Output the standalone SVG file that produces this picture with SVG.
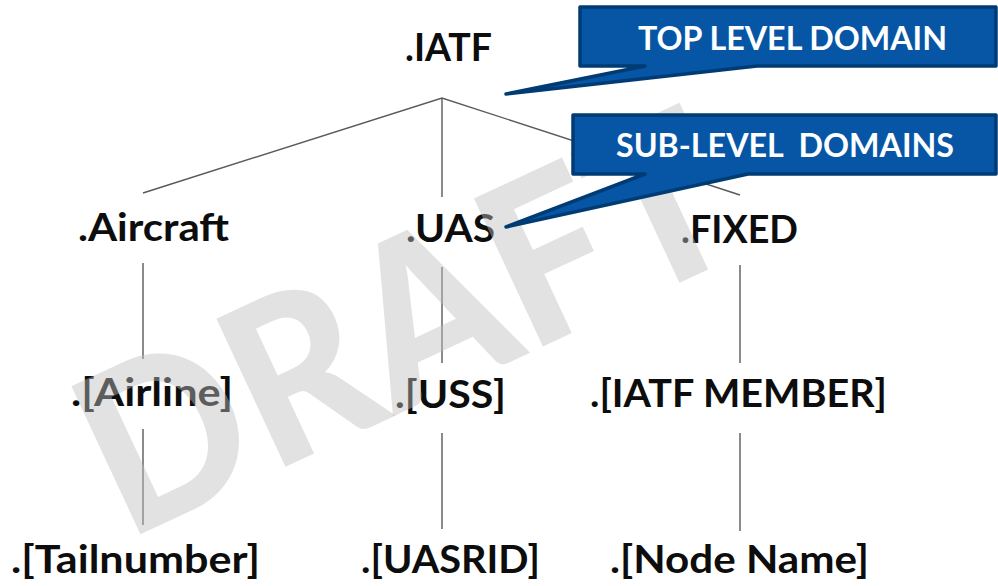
<svg xmlns="http://www.w3.org/2000/svg" width="998" height="586" viewBox="0 0 998 586">
  <style>
    .node { font-family: Lato, "Open Sans", "Liberation Sans", sans-serif; font-weight: 700; font-size: 39px; fill: #0d0d0d; text-anchor: middle; }
    .edge { stroke: #595959; stroke-width: 1.4; fill: none; stroke-linecap: butt; }
    .callout { fill: #0656a5; stroke: #003b73; stroke-width: 3.5; stroke-linejoin: round; }
    .callout-text { font-family: Lato, "Open Sans", "Liberation Sans", sans-serif; font-weight: 700; font-size: 33px; fill: #ffffff; text-anchor: middle; white-space: pre; }
    .watermark { font-family: Lato, "Open Sans", "Liberation Sans", sans-serif; font-weight: 900; font-size: 225px; fill: #bfbfbf; fill-opacity: 0.45; }
  </style>
  <rect width="998" height="586" fill="#ffffff"/>

  <!-- tree connectors -->
  <g id="connectors">
    <polyline class="edge" points="143,193 442,98 740,195"/>
    <line class="edge" x1="442" y1="98" x2="442" y2="197"/>
    <line class="edge" x1="143" y1="263" x2="143" y2="359"/>
    <line class="edge" x1="143" y1="429" x2="143" y2="525"/>
    <line class="edge" x1="442" y1="267" x2="442" y2="363"/>
    <line class="edge" x1="442" y1="433" x2="442" y2="529"/>
    <line class="edge" x1="740" y1="265" x2="740" y2="363"/>
    <line class="edge" x1="740" y1="433" x2="740" y2="531"/>
  </g>

  <!-- domain nodes -->
  <g id="node-iatf"><text class="node" x="448.5" y="61" textLength="87" lengthAdjust="spacingAndGlyphs">.IATF</text></g>
  <g id="node-aircraft"><text class="node" x="153.5" y="241" textLength="151" lengthAdjust="spacingAndGlyphs">.Aircraft</text></g>
  <g id="node-uas"><text class="node" x="450.5" y="242" textLength="89" lengthAdjust="spacingAndGlyphs">.UAS</text></g>
  <g id="node-fixed"><text class="node" x="739.5" y="243" textLength="117" lengthAdjust="spacingAndGlyphs">.FIXED</text></g>
  <g id="node-airline"><text class="node" x="152" y="406" textLength="162" lengthAdjust="spacingAndGlyphs">.[Airline]</text></g>
  <g id="node-uss"><text class="node" x="450.5" y="408" textLength="111" lengthAdjust="spacingAndGlyphs">.[USS]</text></g>
  <g id="node-member"><text class="node" x="738.5" y="407" textLength="297" lengthAdjust="spacingAndGlyphs">.[IATF MEMBER]</text></g>
  <g id="node-tailnumber"><text class="node" x="135.5" y="573" textLength="249" lengthAdjust="spacingAndGlyphs">.[Tailnumber]</text></g>
  <g id="node-uasrid"><text class="node" x="450.5" y="573" textLength="179" lengthAdjust="spacingAndGlyphs">.[UASRID]</text></g>
  <g id="node-nodename"><text class="node" x="739.5" y="573" textLength="259" lengthAdjust="spacingAndGlyphs">.[Node Name]</text></g>

  <!-- watermark -->
  <g id="watermark">
    <text class="watermark" transform="translate(126,541) rotate(-25)" x="0" y="0" textLength="690" lengthAdjust="spacingAndGlyphs">DRAFT</text>
  </g>

  <!-- callouts -->
  <g id="callout-top">
    <polygon class="callout" points="580,7 996,7 996,66 757,66 506,94 645,66 580,66"/>
    <text class="callout-text" x="792.5" y="50" textLength="309" lengthAdjust="spacingAndGlyphs">TOP LEVEL DOMAIN</text>
  </g>
  <g id="callout-sub">
    <polygon class="callout" points="573,115 996,115 996,174 748,174 506,227 645,174 573,174"/>
    <text class="callout-text" x="785" y="157" textLength="338" lengthAdjust="spacingAndGlyphs">SUB-LEVEL  DOMAINS</text>
  </g>
</svg>
